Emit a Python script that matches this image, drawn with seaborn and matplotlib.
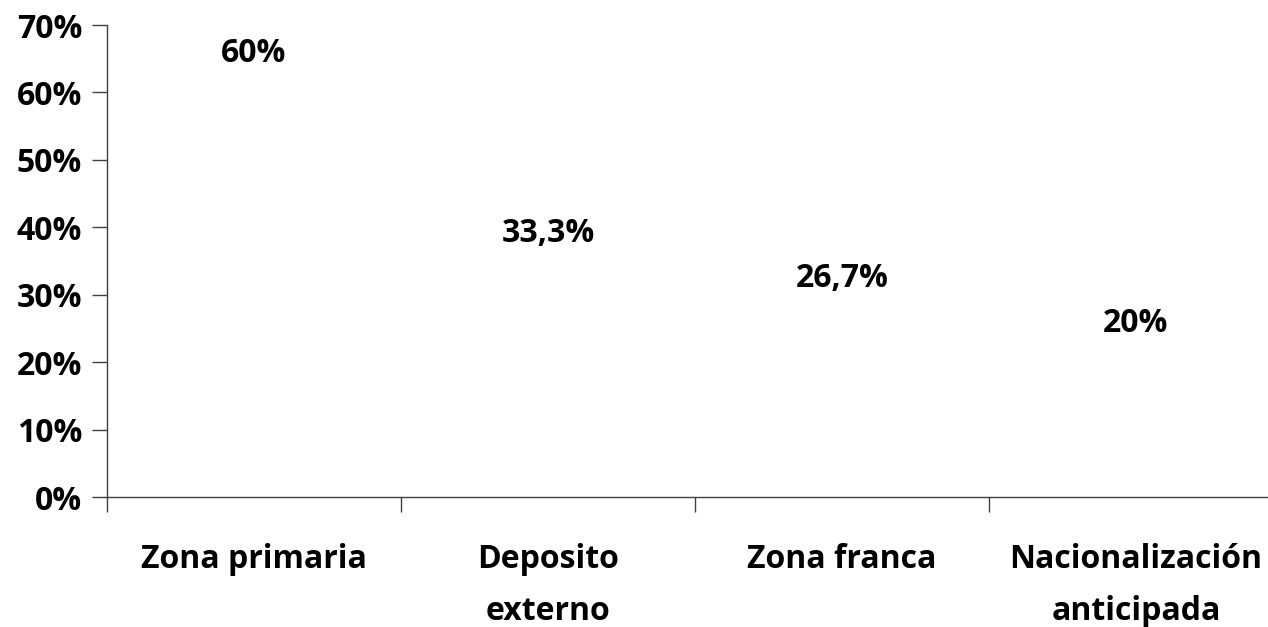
import matplotlib
matplotlib.use("Agg")
import matplotlib.pyplot as plt
import seaborn as sns
import pandas as pd
from matplotlib.ticker import FixedLocator, FuncFormatter

categories = ["Zona primaria", "Deposito\nexterno", "Zona franca", "Nacionalización\nanticipada"]
values = [60.0, 33.3, 26.7, 20.0]
value_labels = ["60%", "33,3%", "26,7%", "20%"]
yticks = [0, 10, 20, 30, 40, 50, 60, 70]

sns.set_theme(style="white")
plt.rcParams['font.family'] = ['Open Sans', 'DejaVu Sans']
plt.rcParams['font.weight'] = 'bold'
plt.rcParams['text.color'] = 'black'
plt.rcParams['xtick.color'] = 'black'
plt.rcParams['ytick.color'] = 'black'

FS = 23

df = pd.DataFrame({"cat": categories, "val": values})

fig = plt.figure(figsize=(12.68, 6.27), dpi=100)
ax = fig.add_axes([107/1268, 1-497/627, (1283-107)/1268, (497-25)/627])

sns.barplot(data=df, x="cat", y="val", ax=ax, color="white", width=0.6, linewidth=0, saturation=1)

for c, lab in zip(ax.containers, [value_labels]):
    ax.bar_label(c, labels=lab, padding=16, fontsize=FS, fontweight='bold', color='black')

ax.set_ylim(0, 70)
ax.set_xlim(-0.5, len(categories) - 0.5)
ax.set_yticks(yticks)
ax.yaxis.set_major_formatter(FuncFormatter(lambda v, p: f"{int(v)}%"))
ax.tick_params(axis='y', direction='out', length=11, width=1, color='#404040', labelcolor='black',
               labelsize=FS, pad=7, left=True)

n = len(categories)
ax.xaxis.set_major_locator(FixedLocator([i - 0.5 for i in range(n + 1)]))
ax.xaxis.set_major_formatter(FuncFormatter(lambda v, p: ""))
ax.set_xticks(list(range(n)), minor=True)
ax.set_xticklabels(categories, minor=True, fontsize=FS, fontweight='bold', linespacing=1.78, color='black')
ax.tick_params(axis='x', which='major', direction='out', length=11, width=1, color='#404040', bottom=True)
ax.tick_params(axis='x', which='minor', length=0, pad=33)

for lbl in ax.get_yticklabels():
    lbl.set_fontweight('bold')

ax.set_xlabel("")
ax.set_ylabel("")
ax.spines['top'].set_visible(False)
ax.spines['right'].set_visible(False)
for s in ['left', 'bottom']:
    ax.spines[s].set_color('#404040')
    ax.spines[s].set_linewidth(1)

fig.savefig("out.png", dpi=100, facecolor='white')
